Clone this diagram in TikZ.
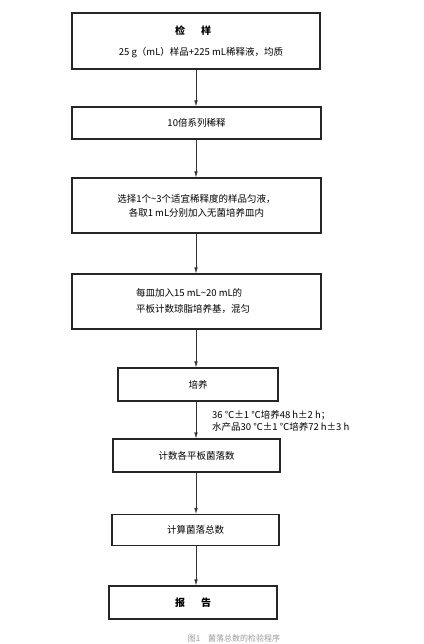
\documentclass[tikz,border=0pt]{standalone}
\usepackage{fontspec}
\setmainfont{Noto Sans CJK SC}
\usetikzlibrary{arrows.meta}
\begin{document}
\begin{tikzpicture}[x=1pt,y=-1pt,
  box/.style={draw=black!85, line width=1.1pt, inner sep=0pt, font=\fontsize{9.5}{14}\selectfont},
  arr/.style={draw=black!80, line width=0.6pt, -{Latex[length=6pt,width=3.5pt]}},
  lbl/.style={font=\fontsize{9.5}{12}\selectfont, align=left, inner sep=0pt, anchor=north west}]
\useasboundingbox (0,0) rectangle (423,644);
\fill[white] (0,0) rectangle (423,644);
\node[box, minimum width=248pt, minimum height=56pt] (b1) at (196,41) {};
\node[font=\fontsize{10}{12}\selectfont\bfseries] (t1a) at (193,31) {检\hspace{1.6em}样};
\node[font=\fontsize{9.5}{12}\selectfont] (t1b) at (201,53) {25 g（mL）样品+225 mL稀释液，均质};
\node[box, minimum width=249pt, minimum height=32pt] (b2) at (196.5,123) {10倍系列稀释};
\node[box, minimum width=249pt, minimum height=55pt, align=center] (b3) at (196.5,205.5) {选择1个\char`\~3个适宜稀释度的样品匀液，\\各取1 mL分别加入无菌培养皿内};
\node[box, minimum width=249pt, minimum height=55pt] (b4) at (196.5,301.5) {};
\node[font=\fontsize{9.5}{16}\selectfont, align=left, inner sep=0pt, anchor=north west] (t4) at (136,288) {每皿加入15 mL\char`\~20 mL的\\平板计数琼脂培养基，混匀};
\node[box, minimum width=160pt, minimum height=33pt] (b5) at (198,384.5) {培养};
\node[lbl] (cond) at (212,410) {36 ℃±1 ℃培养48 h±2 h；\\水产品30 ℃±1 ℃培养72 h±3 h};
\node[box, minimum width=167pt, minimum height=33pt] (b6) at (196.5,455.5) {计数各平板菌落数};
\node[box, minimum width=167pt, minimum height=31pt] (b7) at (195.5,530) {计算菌落总数};
\node[box, minimum width=168pt, minimum height=33pt, font=\fontsize{10}{12}\selectfont\bfseries] (b8) at (193,602.5) {报\hspace{1.6em}告};
\coordinate (ax) at (196,0);
\draw[arr] (b1.south -| ax) -- (b2.north -| ax);
\draw[arr] (b2.south -| ax) -- (b3.north -| ax);
\draw[arr] (b3.south -| ax) -- (b4.north -| ax);
\draw[arr] (b4.south -| ax) -- (b5.north -| ax);
\draw[arr] (b5.south -| ax) -- (b6.north -| ax);
\draw[arr] (b6.south -| ax) -- (b7.north -| ax);
\draw[arr] (b7.south -| ax) -- (b8.north -| ax);
\node[font=\fontsize{8}{10}\selectfont, text=black!40, anchor=south, inner sep=0pt] (cap) at (234,642) {图1\quad 菌落总数的检验程序};
\end{tikzpicture}
\end{document}
